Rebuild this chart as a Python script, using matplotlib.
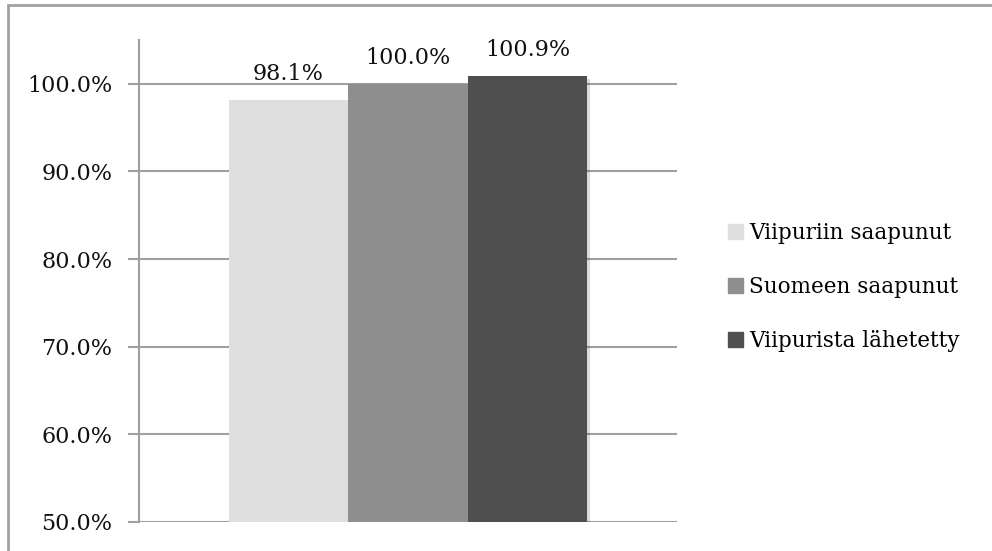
import matplotlib
matplotlib.use("Agg")
import matplotlib.pyplot as plt
from matplotlib.patches import Rectangle
import matplotlib.patheffects as pe

series = ["Viipuriin saapunut", "Suomeen saapunut", "Viipurista lähetetty"]
values = [98.1, 100.0, 100.9]
colors = ["#DEDEDE", "#8E8E8E", "#4F4F4F"]
yticks = [50, 60, 70, 80, 90, 100]

plt.rcParams['font.family'] = ['DejaVu Serif']

W, H = 992, 551
fig = plt.figure(figsize=(W/100, H/100), dpi=100)
# outer chart border
fig.patches.append(Rectangle((8/W, -0.1), 1.2, 1 - 5/H + 0.1, transform=fig.transFigure,
                             fill=False, edgecolor="#A0A0A0", lw=2))

ax = fig.add_axes([139/W, 1 - 522/H, (677-139)/W, (522-40)/H])
x = [-1, 0, 1]
bars = ax.bar(x, values, width=1.0, color=colors, zorder=3,
              path_effects=[pe.SimplePatchShadow(offset=(2, -2), alpha=0.15), pe.Normal()])
for xi, v in zip(x, values):
    ax.text(xi, v + 2.3, f"{v:.1f}%", ha="center", va="baseline", fontsize=16, color="#111111", zorder=4)

ax.set_ylim(50, 105)
ax.set_xlim(-2.25, 2.25)
ax.set_yticks(yticks)
ax.set_yticklabels([f"{t:.1f}%" for t in yticks], fontsize=16, color="#111111")
ax.set_xticks([])
ax.yaxis.grid(True, color="#A0A0A0", lw=1.5, zorder=0)
ax.tick_params(axis="y", length=8, width=1.5, color="#A0A0A0", pad=11)
for s in ["top", "right", "bottom"]:
    ax.spines[s].set_visible(False)
ax.spines["left"].set_color("#A0A0A0")
ax.spines["left"].set_linewidth(1.5)

handles = [Rectangle((0, 0), 1, 1, color=c) for c in colors]
fig.legend(handles, series, loc="center left", bbox_to_anchor=(709/W, 1 - 287/H),
           frameon=False, fontsize=15.5, handlelength=0.7, handleheight=0.7,
           handletextpad=0.25, labelspacing=1.5)

fig.savefig("out.png", dpi=100)
